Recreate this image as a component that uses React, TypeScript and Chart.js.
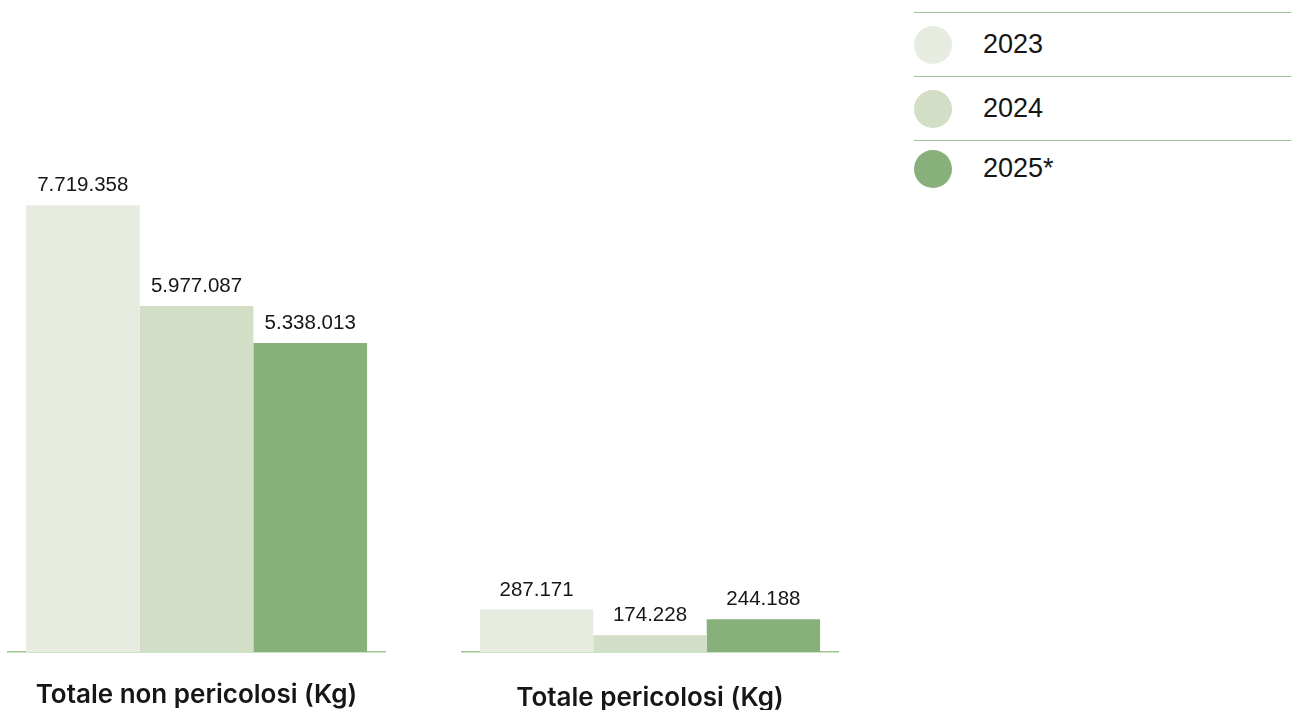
import React, { useEffect, useRef } from "react";
import { Chart, registerables } from "chart.js";

Chart.register(...registerables);

// ---- data ----
const categories = ["Totale non pericolosi (Kg)", "Totale pericolosi (Kg)"];
const seriesLabels = ["2023", "2024", "2025*"];
const values2023 = [7719358, 287171];
const values2024 = [5977087, 174228];
const values2025 = [5338013, 244188];
const seriesValues = [values2023, values2024, values2025];

// ---- styles ----
const seriesColors = ["#E6ECE0", "#D2DEC5", "#88B07A"];
const lineColor = "#9CC68D";
const textColor = "#161616";
const axisMin = [0, 100000];
const axisMax = [9000000, 2400000];

const fmt = (v: number) => String(v).replace(/\B(?=(\d{3})+(?!\d))/g, ".");

const valueLabels = {
  id: "valueLabels",
  afterDatasetsDraw(chart: any) {
    const ctx = chart.ctx;
    ctx.save();
    ctx.font = "20.5px 'Liberation Sans', Arial, sans-serif";
    ctx.fillStyle = textColor;
    ctx.textAlign = "center";
    ctx.textBaseline = "alphabetic";
    chart.data.datasets.forEach((ds: any, di: number) => {
      const meta = chart.getDatasetMeta(di);
      meta.data.forEach((el: any, i: number) => {
        ctx.fillText(fmt(ds.data[i]), el.x, el.y - 14);
      });
    });
    ctx.restore();
  },
};

function GroupChart({ idx, left, width, height, tickPad }: { idx: number; left: number; width: number; height: number; tickPad: number }) {
  const ref = useRef<HTMLCanvasElement | null>(null);
  useEffect(() => {
    if (!ref.current) return;
    const chart = new Chart(ref.current, {
      type: "bar",
      data: {
        labels: [categories[idx]],
        datasets: seriesLabels.map((l, s) => ({
          label: l,
          data: [seriesValues[s][idx]],
          backgroundColor: seriesColors[s],
          borderWidth: 0,
          categoryPercentage: 0.9,
          barPercentage: 1,
        })),
      },
      options: {
        animation: false,
        responsive: false,
        maintainAspectRatio: false,
        layout: { padding: { top: 131, bottom: 0, left: 0, right: 0 } },
        plugins: { legend: { display: false }, tooltip: { enabled: false } },
        scales: {
          x: {
            grid: { display: false, drawTicks: false },
            border: { display: true, color: lineColor, width: 1.5 },
            ticks: {
              color: textColor,
              padding: tickPad,
              font: { family: "Inter, 'Noto Sans', sans-serif", size: 26, weight: "600" as any },
            },
          },
          y: { display: false, min: axisMin[idx], max: axisMax[idx] },
        },
      },
      plugins: [valueLabels as any],
    });
    return () => chart.destroy();
  }, []);
  return (
    <canvas
      ref={ref}
      width={width}
      height={height}
      style={{ position: "absolute", left, top: 0, width, height }}
    />
  );
}

const legendRowHeights = [64, 64, 56];

function Legend() {
  return (
    <div style={{ position: "absolute", left: 914, top: 12, width: 377 }}>
      {seriesLabels.map((l, i) => (
        <div
          key={l}
          style={{
            height: legendRowHeights[i],
            borderTop: `1px solid ${lineColor}`,
            display: "flex",
            alignItems: "center",
            boxSizing: "border-box",
          }}
        >
          <div style={{ width: 38, height: 38, borderRadius: "50%", background: seriesColors[i] }} />
          <div
            style={{
              marginLeft: 31,
              fontFamily: "'Liberation Sans', Arial, sans-serif",
              fontSize: 27,
              color: textColor,
            }}
          >
            {l}
          </div>
        </div>
      ))}
    </div>
  );
}

export default function App() {
  return (
    <div style={{ position: "relative", width: 1291, height: 710, overflow: "hidden", background: "#fff" }}>
      <style>{`body{margin:0}`}</style>
      <GroupChart idx={0} left={7} width={379} height={739} tickPad={27.9} />
      <GroupChart idx={1} left={461} width={378} height={745} tickPad={30.9} />
      <Legend />
    </div>
  );
}
